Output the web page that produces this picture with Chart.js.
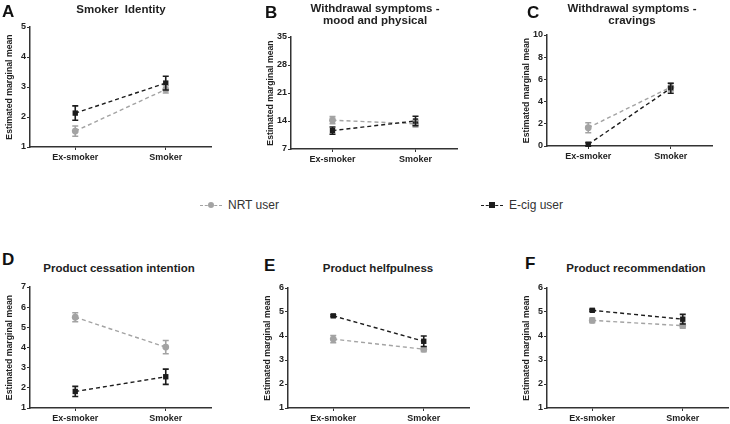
<!DOCTYPE html>
<html>
<head>
<meta charset="utf-8">
<script src="https://cdn.jsdelivr.net/npm/chart.js@4/dist/chart.umd.min.js"></script>
<style>
  body { margin: 0; background: #fff; font-family: 'Liberation Sans', Arial, sans-serif; }
  #page { position: relative; width: 730px; height: 424px; overflow: hidden; }
  canvas { position: absolute; }
  .letter { position: absolute; font-weight: bold; font-size: 17px; color: #111; line-height: 1; }
  .title { position: absolute; font-weight: bold; font-size: 11.5px; color: #222; text-align: center;
           line-height: 11.5px; white-space: pre; transform: translateX(-50%); }
  .leg { position: absolute; font-size: 12px; color: #333; line-height: 12px; }
  .leg .sym { position: absolute; top: 6px; width: 22px; height: 0; border-top: 1.5px dashed; }
  .leg .dot { position: absolute; left: 8px; top: -4px; width: 6px; height: 6px; }
  .leg .txt { position: absolute; left: 28px; top: 0; white-space: nowrap; }
</style>
</head>
<body>
<div id="page"></div>
<script>
'use strict';

// categories and values
var categories = ['Ex-smoker', 'Smoker'];
var seriesNames = ['NRT user', 'E-cig user'];
var panelLetters = ['A', 'B', 'C', 'D', 'E', 'F'];
var panelTitles = [
    ['Smoker  Identity'],
    ['Withdrawal symptoms -', 'mood and physical'],
    ['Withdrawal symptoms -', 'cravings'],
    ['Product cessation intention'],
    ['Product helfpulness'],
    ['Product recommendation']
];
var nrtMean  = [[1.53, 2.92], [14.2, 13.3], [1.65, 5.3], [5.5, 4.02], [3.87, 3.45], [4.65, 4.43]];
var nrtErr   = [[0.17, 0.12], [0.9, 0.8],   [0.45, 0.35], [0.22, 0.33], [0.15, 0.1], [0.1, 0.1]];
var ecigMean = [[2.13, 3.13], [11.6, 14.0], [0.15, 5.2], [1.82, 2.55], [4.84, 3.78], [5.07, 4.7]];
var ecigErr  = [[0.24, 0.23], [0.9, 1.2],   [0.15, 0.45], [0.25, 0.38], [0.04, 0.22], [0.04, 0.2]];
var yMin  = [1, 7, 0, 1, 1, 1];
var yMax  = [5, 35, 10, 7, 6, 6];
var yStep = [1, 7, 2, 1, 1, 1];

// layout: plot area in page pixels
var plotBoxes = [
    { l: 30,  r: 212, t: 27,  b: 147 },
    { l: 291, r: 458, t: 37,  b: 149 },
    { l: 547, r: 713, t: 35,  b: 146 },
    { l: 30,  r: 212, t: 287, b: 408 },
    { l: 288, r: 470, t: 288, b: 408 },
    { l: 547, r: 729, t: 288, b: 408 }
];
var letterPos = [[2, 3], [265, 4], [527, 4], [2, 251], [264, 257], [525, 255]];
var titlePos = [[121, 4], [375, 3], [632, 3], [119, 263], [378, 263], [636, 263]];

var nrtColor = '#a3a3a3';
var ecigColor = '#1c1c1c';
var axisColor = '#333333';

Chart.defaults.font.family = "'Liberation Sans', Arial, sans-serif";
Chart.defaults.color = '#222';

var errorBars = {
    id: 'errorBars',
    afterDatasetsDraw(chart) {
        let ctx = chart.ctx;
        let yScale = chart.scales.y;
        [1, 0].forEach(di => {
            let ds = chart.data.datasets[di];
            let meta = chart.getDatasetMeta(di);
            ctx.save();
            ctx.strokeStyle = ds.borderColor;
            ctx.lineWidth = 1.6;
            ctx.setLineDash([]);
            meta.data.forEach((pt, i) => {
                let v = ds.data[i];
                let e = ds.errors[i];
                let yTop = yScale.getPixelForValue(v + e);
                let yBot = yScale.getPixelForValue(v - e);
                ctx.beginPath();
                ctx.moveTo(pt.x, yTop);
                ctx.lineTo(pt.x, yBot);
                ctx.moveTo(pt.x - 3, yTop);
                ctx.lineTo(pt.x + 3, yTop);
                ctx.moveTo(pt.x - 3, yBot);
                ctx.lineTo(pt.x + 3, yBot);
                ctx.stroke();
            });
            ctx.restore();
        });
    }
};

var page = document.getElementById('page');

function addDiv(cls, text, x, y) {
    let d = document.createElement('div');
    d.className = cls;
    d.textContent = text;
    d.style.left = x + 'px';
    d.style.top = y + 'px';
    page.appendChild(d);
    return d;
}

function makePanel(p) {
    let box = plotBoxes[p];
    let yW = 30, xH = 22, padT = 10, padR = 3;
    let canvas = document.createElement('canvas');
    canvas.width = box.r - box.l + yW + padR;
    canvas.height = box.b - box.t + padT + xH;
    canvas.style.left = (box.l - yW) + 'px';
    canvas.style.top = (box.t - padT) + 'px';
    page.appendChild(canvas);

    new Chart(canvas, {
        type: 'line',
        data: {
            labels: categories,
            datasets: [
                {
                    label: seriesNames[1],
                    data: ecigMean[p],
                    errors: ecigErr[p],
                    borderColor: ecigColor,
                    backgroundColor: ecigColor,
                    borderWidth: 1.4,
                    borderDash: [4, 3],
                    pointStyle: 'rect',
                    pointRadius: 3.8,
                    pointBorderWidth: 0,
                    clip: false
                },
                {
                    label: seriesNames[0],
                    data: nrtMean[p],
                    errors: nrtErr[p],
                    borderColor: nrtColor,
                    backgroundColor: nrtColor,
                    borderWidth: 1.4,
                    borderDash: [4, 3],
                    pointStyle: 'circle',
                    pointRadius: 3.4,
                    pointBorderWidth: 0,
                    clip: false
                }
            ]
        },
        options: {
            responsive: false,
            animation: false,
            events: [],
            layout: { padding: { left: 0, top: padT, right: padR, bottom: 0 } },
            plugins: {
                legend: { display: false },
                tooltip: { enabled: false }
            },
            scales: {
                x: {
                    type: 'category',
                    offset: true,
                    grid: {
                        offset: false,
                        drawOnChartArea: false,
                        drawTicks: true,
                        tickLength: 3,
                        color: axisColor,
                        lineWidth: 1
                    },
                    border: { display: true, color: axisColor, width: 1.5 },
                    ticks: {
                        padding: 2,
                        maxRotation: 0,
                        autoSkip: false,
                        color: '#222',
                        font: { size: 9, weight: 'bold' }
                    },
                    afterFit: function (scale) { scale.height = xH; }
                },
                y: {
                    min: yMin[p],
                    max: yMax[p],
                    grid: {
                        drawOnChartArea: false,
                        drawTicks: true,
                        tickLength: 3,
                        color: axisColor,
                        lineWidth: 1
                    },
                    border: { display: true, color: axisColor, width: 1.5 },
                    ticks: {
                        stepSize: yStep[p],
                        padding: 1,
                        color: '#222',
                        font: { size: 9, weight: 'bold' }
                    },
                    title: {
                        display: true,
                        text: 'Estimated marginal mean',
                        color: '#222',
                        padding: { top: 4, bottom: 0 },
                        font: { size: 8.7, weight: 'bold' }
                    },
                    afterFit: function (scale) { scale.width = yW; }
                }
            }
        },
        plugins: [errorBars]
    });

    addDiv('letter', panelLetters[p], letterPos[p][0], letterPos[p][1]);
    addDiv('title', panelTitles[p].join('\n'), titlePos[p][0], titlePos[p][1]);
}

for (let p = 0; p < plotBoxes.length; p++) {
    makePanel(p);
}

// legend
function addLegend(i, x, y, color, round) {
    let d = document.createElement('div');
    d.className = 'leg';
    d.style.left = x + 'px';
    d.style.top = y + 'px';
    let sym = document.createElement('span');
    sym.className = 'sym';
    sym.style.borderColor = color;
    let dot = document.createElement('span');
    dot.className = 'dot';
    dot.style.background = color;
    if (round) dot.style.borderRadius = '50%';
    sym.appendChild(dot);
    let txt = document.createElement('span');
    txt.className = 'txt';
    txt.textContent = seriesNames[i];
    d.appendChild(sym);
    d.appendChild(txt);
    page.appendChild(d);
}
addLegend(0, 200, 199, nrtColor, true);
addLegend(1, 481, 199, ecigColor, false);
</script>
</body>
</html>
